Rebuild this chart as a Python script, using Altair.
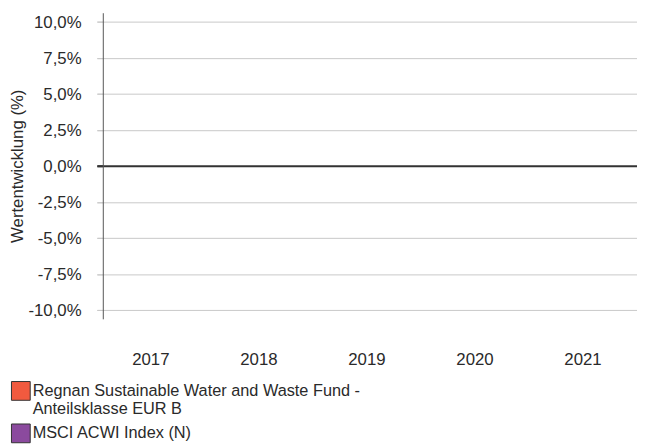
import altair as alt
import pandas as pd

# ---- data (chart shows no bars: values are missing) ----
years = ["2017", "2018", "2019", "2020", "2021"]
series = [
    "Regnan Sustainable Water and Waste Fund - Anteilsklasse EUR B",
    "MSCI ACWI Index (N)",
]
fund_values = [None, None, None, None, None]
index_values = [None, None, None, None, None]
colors = ["#F15A3F", "#8B4A9E"]
y_ticks = [-10, -7.5, -5, -2.5, 0, 2.5, 5, 7.5, 10]

rows = []
for name, vals in zip(series, [fund_values, index_values]):
    for yr, v in zip(years, vals):
        rows.append({"Jahr": yr, "Serie": name, "Wert": v})
df = pd.DataFrame(rows)

FONT = "Liberation Sans"
FS = 17
LFS = 16.5
TXT = "#2a2a2a"
zero = "datum.value === 0"

chart = alt.Chart(df).mark_bar().encode(
    x=alt.X(
        "Jahr:N",
        scale=alt.Scale(domain=years, paddingInner=0.2, paddingOuter=0.1),
        axis=alt.Axis(
            title=None, labelAngle=0, domain=False, ticks=False, grid=False,
            labelPadding=33, labelFontSize=FS, labelFont=FONT, labelColor=TXT,
        ),
    ),
    xOffset=alt.XOffset("Serie:N", scale=alt.Scale(domain=series)),
    y=alt.Y(
        "Wert:Q",
        scale=alt.Scale(domain=[-10.6, 10.65], nice=False, zero=False),
        axis=alt.Axis(
            values=y_ticks,
            labelExpr="(datum.value < 0 ? '-' : '') + replace(format(abs(datum.value), '.1f'), '.', ',') + '%'",
            title="Wertentwicklung (%)",
            titleFont=FONT, titleFontSize=17, titleFontWeight="normal", titleColor=TXT,
            titlePadding=1,
            offset=-6,
            tickSize=6,
            tickColor={"condition": {"test": zero, "value": "#333333"}, "value": "#c8c8c8"},
            tickWidth={"condition": {"test": zero, "value": 2}, "value": 1},
            gridColor={"condition": {"test": zero, "value": "#333333"}, "value": "#c8c8c8"},
            gridWidth={"condition": {"test": zero, "value": 2}, "value": 1},
            gridOpacity=1,
            domainColor="#555555", domainWidth=1,
            labelPadding=16, labelFontSize=FS, labelFont=FONT, labelColor=TXT,
        ),
    ),
    color=alt.Color(
        "Serie:N",
        scale=alt.Scale(domain=series, range=colors),
        legend=alt.Legend(
            title=None, orient="none", legendX=-87, legendY=373,
            direction="vertical", symbolType="square", symbolSize=361,
            symbolStrokeColor="#333333", symbolStrokeWidth=1, symbolOpacity=1,
            labelFontSize=LFS, labelFont=FONT, labelColor=TXT, labelOffset=2,
            labelLimit=700, rowPadding=4, padding=0, labelBaseline="middle",
            labelExpr="split(replace(datum.label, ' - ', ' -|'), '|')",
        ),
    ),
).properties(
    width=547,
    height=310,
    autosize=alt.AutoSizeParams(type="none"),
    padding={"left": 90, "top": 2, "right": 0, "bottom": 125},
    background="white",
).configure_view(stroke=None)

chart.save("out.html", embed_options={"renderer": "svg", "actions": False})
